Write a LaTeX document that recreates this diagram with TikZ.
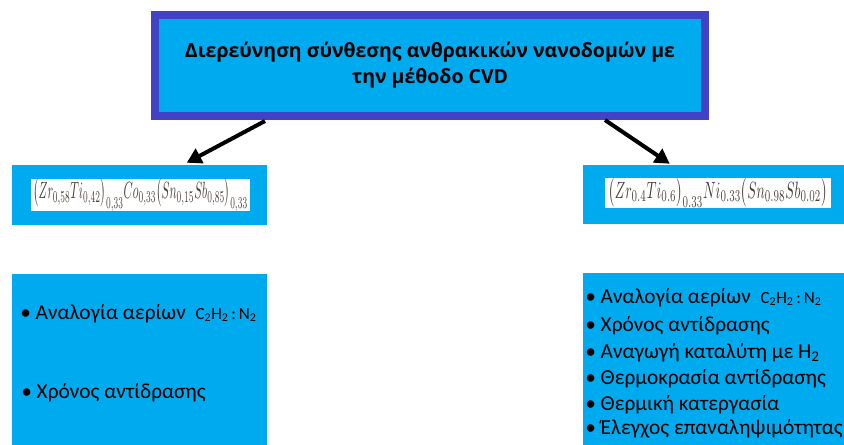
\documentclass[tikz,border=0pt]{standalone}
\usepackage{fontspec, graphicx}
\setmainfont{Carlito}
\newfontfamily\headfont{Open Sans}
\usetikzlibrary{calc, arrows.meta}
\definecolor{boxblue}{HTML}{00AAEF}
\definecolor{frameblue}{HTML}{4242C6}
\definecolor{formulaink}{HTML}{4A4038}
\tikzstyle{panel}=[rectangle, fill=boxblue, inner sep=0pt]
\tikzstyle{head}=[panel, draw=frameblue, line width=6pt, align=center, font=\headfont\bfseries\fontsize{14.6}{19.5}\selectfont]
\tikzstyle{formula}=[rectangle, fill=white, inner sep=0pt, text=formulaink, minimum height=21pt]
\tikzstyle{item}=[anchor=base west, inner sep=0pt, font=\fontsize{16}{20}\selectfont]
\tikzstyle{link}=[-{Triangle[length=11pt,width=12pt]}, line width=3pt]
\newcommand{\gasmix}{{\fontsize{12.75}{14}\selectfont C\textsubscript{2}H\textsubscript{2}\,:\,N\textsubscript{2}}}

\begin{document}
\begin{tikzpicture}[x=0.75pt, y=-0.75pt]
    \useasboundingbox (0,0) rectangle (844,444);
    \clip (0,0) rectangle (844,444);
    \coordinate (t) at (430,65.5);
    \coordinate (m1) at (139.5,195);
    \coordinate (m2) at (718,194.5);
    \coordinate (p1) at (139.5,362);
    \coordinate (p2) at (718,361.5);
    % title box
    \node[head, minimum width=412.5pt, minimum height=75.75pt] (title) at (t)
        {Διερεύνηση σύνθεσης ανθρακικών νανοδομών με\\την μέθοδο CVD};
    % the two alloys
    \node[panel, minimum width=191.25pt, minimum height=45pt] (mat1) at (m1) {};
    \node[panel, minimum width=202.5pt, minimum height=44.25pt] (mat2) at (m2) {};
    \node[formula, minimum width=164.25pt] (f1) at (140.5,195)
        {\resizebox{161pt}{15pt}{$\bigl(Zr_{0{,}58}Ti_{0{,}42}\bigr)_{0{,}33}Co_{0{,}33}\bigl(Sn_{0{,}15}Sb_{0{,}85}\bigr)_{0{,}33}$}};
    \node[formula, minimum width=169.5pt] (f2) at (718,193)
        {\resizebox{164pt}{15pt}{$\bigl(Zr_{0.4}Ti_{0.6}\bigr)_{0.33}Ni_{0.33}\bigl(Sn_{0.98}Sb_{0.02}\bigr)$}};
    % parameter lists
    \node[panel, minimum width=191.25pt, minimum height=132pt] (par1) at (p1) {};
    \node[panel, minimum width=202.5pt, minimum height=132.75pt] (par2) at (p2) {};
    \node[item] (a1) at (20,319) {\textbullet\ Αναλογία αερίων\ \ \gasmix};
    \node[item] (a2) at (21,398) {\textbullet\ Χρόνος αντίδρασης};
    \node[item] (b1) at (585,303) {\textbullet\ Αναλογία αερίων\ \ \gasmix};
    \node[item] (b2) at (585,331) {\textbullet\ Χρόνος αντίδρασης};
    \node[item] (b3) at (585,358) {\textbullet\ Αναγωγή καταλύτη με H\textsubscript{2}};
    \node[item] (b4) at (585,384) {\textbullet\ Θερμοκρασία αντίδρασης};
    \node[item] (b5) at (585,410) {\textbullet\ Θερμική κατεργασία};
    \node[item] (b6) at (585,434) {\textbullet\ Έλεγχος επαναληψιμότητας};
    % arrows
    \draw[link] ($(title.south west)+(114,1)$) -- ($(mat1.north west)+(175,-2)$);
    \draw[link] ($(title.south east)+(-104,0)$) -- ($(mat2.north west)+(87,-1)$);
\end{tikzpicture}
\end{document}
